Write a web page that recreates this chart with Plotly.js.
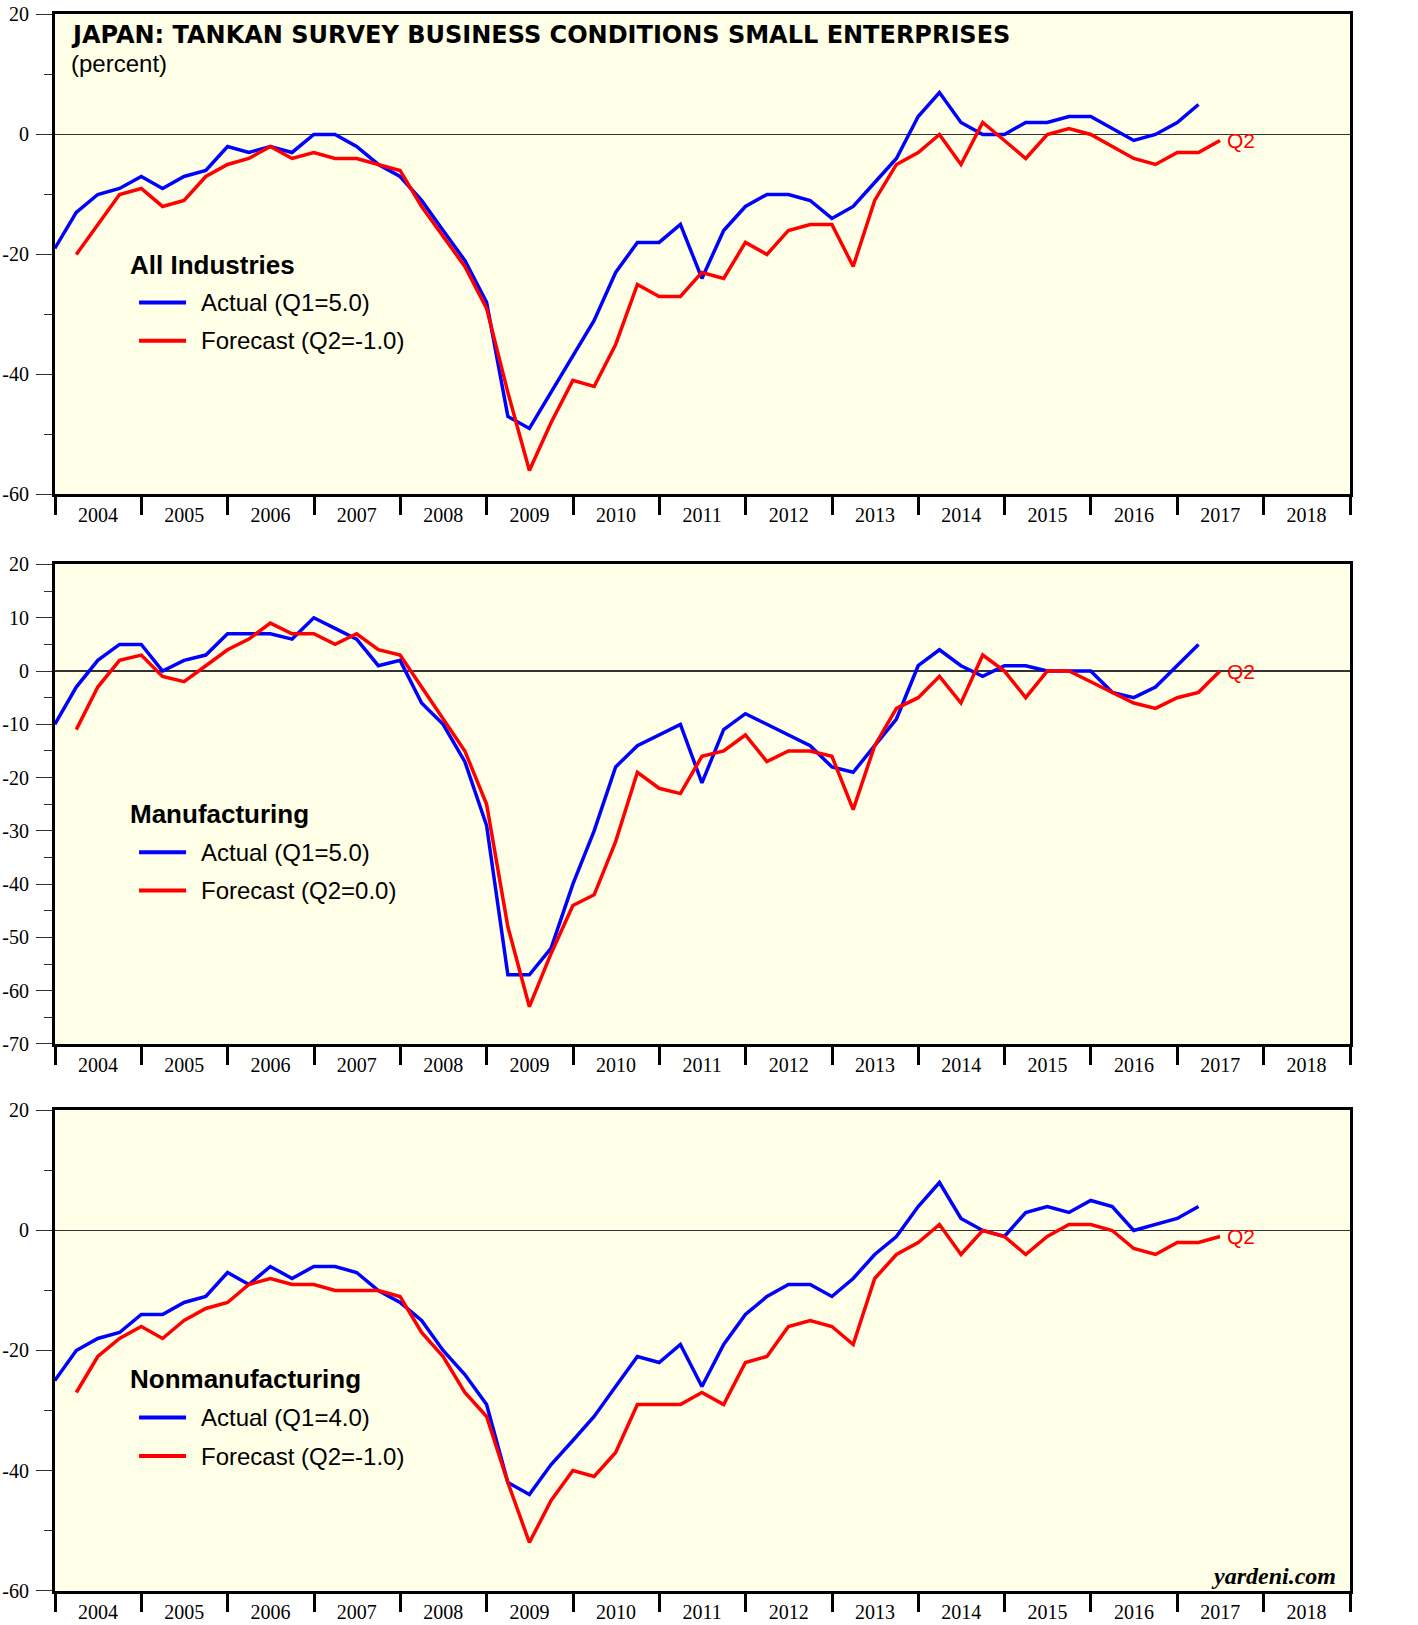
<!DOCTYPE html>
<html><head><meta charset="utf-8">
<script src="https://cdn.plot.ly/plotly-3.0.1.min.js"></script>
<style>html,body{margin:0;padding:0;background:#fff}#chart{width:1418px;height:1625px}</style>
</head><body><div id="chart"></div><script>
// Quarter-end dates (Q4 2003 .. Q2 2017)
const dates = ['2003-12-31',
 '2004-03-31','2004-06-30','2004-09-30','2004-12-31',
 '2005-03-31','2005-06-30','2005-09-30','2005-12-31',
 '2006-03-31','2006-06-30','2006-09-30','2006-12-31',
 '2007-03-31','2007-06-30','2007-09-30','2007-12-31',
 '2008-03-31','2008-06-30','2008-09-30','2008-12-31',
 '2009-03-31','2009-06-30','2009-09-30','2009-12-31',
 '2010-03-31','2010-06-30','2010-09-30','2010-12-31',
 '2011-03-31','2011-06-30','2011-09-30','2011-12-31',
 '2012-03-31','2012-06-30','2012-09-30','2012-12-31',
 '2013-03-31','2013-06-30','2013-09-30','2013-12-31',
 '2014-03-31','2014-06-30','2014-09-30','2014-12-31',
 '2015-03-31','2015-06-30','2015-09-30','2015-12-31',
 '2016-03-31','2016-06-30','2016-09-30','2016-12-31',
 '2017-03-31','2017-06-30'];
const actualDates = dates.slice(0, 54);
const forecastDates = dates.slice(1);

// All industries
const allActual = [-19,-13,-10,-9,-7,-9,-7,-6,-2,-3,
 -2,-3,0,0,-2,-5,-7,-11,-16,-21,
 -28,-47,-49,-43,-37,-31,-23,-18,-18,-15,
 -24,-16,-12,-10,-10,-11,-14,-12,-8,-4,
 3,7,2,0,0,2,2,3,3,1,
 -1,0,2,5];
const allForecast = [-20,-15,-10,-9,-12,-11,-7,-5,-4,-2,
 -4,-3,-4,-4,-5,-6,-12,-17,-22,-29,
 -43,-56,-48,-41,-42,-35,-25,-27,-27,-23,
 -24,-18,-20,-16,-15,-15,-22,-11,-5,-3,
 0,-5,2,-1,-4,0,1,0,-2,-4,
 -5,-3,-3,-1];
// Manufacturing
const mfgActual = [-10,-3,2,5,5,0,2,3,7,7,
 7,6,10,8,6,1,2,-6,-10,-17,
 -29,-57,-57,-52,-40,-30,-18,-14,-12,-10,
 -21,-11,-8,-10,-12,-14,-18,-19,-14,-9,
 1,4,1,-1,1,1,0,0,0,-4,
 -5,-3,1,5];
const mfgForecast = [-11,-3,2,3,-1,-2,1,4,6,9,
 7,7,5,7,4,3,-3,-9,-15,-25,
 -48,-63,-53,-44,-42,-32,-19,-22,-23,-16,
 -15,-12,-17,-15,-15,-16,-26,-14,-7,-5,
 -1,-6,3,0,-5,0,0,-2,-4,-6,
 -7,-5,-4,0];
// Nonmanufacturing
const nonActual = [-25,-20,-18,-17,-14,-14,-12,-11,-7,-9,
 -6,-8,-6,-6,-7,-10,-12,-15,-20,-24,
 -29,-42,-44,-39,-35,-31,-26,-21,-22,-19,
 -26,-19,-14,-11,-9,-9,-11,-8,-4,-1,
 4,8,2,0,-1,3,4,3,5,4,
 0,1,2,4];
const nonForecast = [-27,-21,-18,-16,-18,-15,-13,-12,-9,-8,
 -9,-9,-10,-10,-10,-11,-17,-21,-27,-31,
 -42,-52,-45,-40,-41,-37,-29,-29,-29,-27,
 -29,-22,-21,-16,-15,-16,-19,-8,-4,-2,
 1,-4,0,-1,-4,-1,1,1,0,-3,
 -4,-2,-2,-1];

const yearLabels = ['2004','2005','2006','2007','2008','2009','2010','2011','2012','2013','2014','2015','2016','2017','2018'];
const yearMids = ['2004-07-01','2005-07-01','2006-07-01','2007-07-01','2008-07-01','2009-07-01','2010-07-01','2011-07-01','2012-07-01','2013-07-01','2014-07-01','2015-07-01','2016-07-01','2017-07-01','2018-07-01'];
const yearStarts = ['2004-01-01','2005-01-01','2006-01-01','2007-01-01','2008-01-01','2009-01-01','2010-01-01','2011-01-01','2012-01-01','2013-01-01','2014-01-01','2015-01-01','2016-01-01','2017-01-01','2018-01-01','2019-01-01'];

const yMajorA = [20,0,-20,-40,-60];
const yMajorALabels = ['20','0','-20','-40','-60'];
const yMinorA = [10,-10,-30,-50];
const yMajorB = [20,10,0,-10,-20,-30,-40,-50,-60,-70];
const yMajorBLabels = ['20','10','0','-10','-20','-30','-40','-50','-60','-70'];
const yMinorB = [15,5,-5,-15,-25,-35,-45,-55,-65];

const panels = [
  {name:'All Industries', actual:allActual, forecast:allForecast, range:[-60,20], major:yMajorA, labels:yMajorALabels, minor:yMinorA,
   actualText:'Actual (Q1=5.0)', forecastText:'Forecast (Q2=-1.0)', dom:[0.69575,0.99108], leg:[0.479,0.400,0.320]},
  {name:'Manufacturing', actual:mfgActual, forecast:mfgForecast, range:[-70,20], major:yMajorB, labels:yMajorBLabels, minor:yMinorB,
   actualText:'Actual (Q1=5.0)', forecastText:'Forecast (Q2=0.0)', dom:[0.35754,0.65262], leg:[0.479,0.400,0.320]},
  {name:'Nonmanufacturing', actual:nonActual, forecast:nonForecast, range:[-60,20], major:yMajorA, labels:yMajorALabels, minor:yMinorA,
   actualText:'Actual (Q1=4.0)', forecastText:'Forecast (Q2=-1.0)', dom:[0.02123,0.31662], leg:[0.4396,0.3604,0.2802]}
];

const BLUE = '#0000ff', RED = '#ff0000';
const serif = 'Liberation Serif, Times New Roman, serif';
const sans = 'Liberation Sans, Arial, sans-serif';
const xDom = [0.03879, 0.95205];

const data = [];
const layout = {
  width:1418, height:1625, margin:{l:0,r:0,t:0,b:0},
  paper_bgcolor:'#ffffff', plot_bgcolor:'#fffee6',
  showlegend:false, annotations:[], shapes:[]
};

panels.forEach((p, i) => {
  const n = i + 1;
  const xa = 'x' + (n === 1 ? '' : n);
  const ya = 'y' + (n === 1 ? '' : n);
  data.push({x:actualDates, y:p.actual, xaxis:xa, yaxis:ya, type:'scatter', mode:'lines',
    line:{color:BLUE, width:3.5}, name:'Actual', hoverinfo:'x+y'});
  data.push({x:forecastDates, y:p.forecast, xaxis:xa, yaxis:ya, type:'scatter', mode:'lines',
    line:{color:RED, width:3.5}, name:'Forecast', hoverinfo:'x+y'});

  layout['xaxis' + (n === 1 ? '' : n)] = {
    type:'date', domain:xDom, anchor:ya, range:['2004-01-01','2019-01-01'],
    tickmode:'array', tickvals:yearMids, ticktext:yearLabels, ticks:'',
    ticklabelstandoff:1,
    minor:{tickmode:'array', tickvals:yearStarts, ticks:'outside', ticklen:18, tickwidth:3, tickcolor:'#000', showgrid:false},
    showline:true, linewidth:3, linecolor:'#000', mirror:true,
    showgrid:false, zeroline:false, fixedrange:true,
    tickfont:{family:serif, size:20, color:'#000'}
  };
  const yBase = {
    range:p.range, domain:p.dom, anchor:xa,
    tickmode:'array', tickvals:p.major, ticktext:p.labels,
    ticks:'outside', ticklen:16, tickwidth:1, tickcolor:'#333',
    minor:{tickmode:'array', tickvals:p.minor, ticks:'outside', ticklen:8, tickwidth:1, tickcolor:'#333', showgrid:false},
    showgrid:false, fixedrange:true,
    tickfont:{family:serif, size:20, color:'#000'}
  };
  layout['yaxis' + (n === 1 ? '' : n)] = Object.assign({}, yBase, {
    showline:true, linewidth:3, linecolor:'#000', mirror:true,
    zeroline:true, zerolinecolor:'#333', zerolinewidth:1.5, ticklabelstandoff:3
  });
  layout['yaxis' + (n + 3)] = Object.assign({}, yBase, {
    overlaying:ya, side:'right', showline:false, zeroline:false, ticklabelstandoff:3
  });

  const xd = xa + ' domain', yd = ya + ' domain';
  // legend block
  layout.annotations.push({xref:xd, yref:yd, x:0.0564, y:p.leg[0], xanchor:'left', yanchor:'middle',
    text:'<b>' + p.name + '</b>', showarrow:false, font:{family:sans, size:26, color:'#000'}});
  layout.annotations.push({xref:xd, yref:yd, x:0.1112, y:p.leg[1], xanchor:'left', yanchor:'middle',
    text:p.actualText, showarrow:false, font:{family:sans, size:24, color:'#000'}});
  layout.annotations.push({xref:xd, yref:yd, x:0.1112, y:p.leg[2], xanchor:'left', yanchor:'middle',
    text:p.forecastText, showarrow:false, font:{family:sans, size:24, color:'#000'}});
  layout.shapes.push({type:'line', xref:xd, yref:yd, x0:0.0649, x1:0.1012, y0:p.leg[1], y1:p.leg[1], line:{color:BLUE, width:4}});
  layout.shapes.push({type:'line', xref:xd, yref:yd, x0:0.0649, x1:0.1012, y0:p.leg[2], y1:p.leg[2], line:{color:RED, width:4}});
  // Q2 label at end of forecast line
  layout.annotations.push({xref:xa, yref:ya, x:forecastDates[forecastDates.length-1], y:p.forecast[p.forecast.length-1],
    xanchor:'left', yanchor:'middle', xshift:5, text:'Q2', showarrow:false, font:{family:sans, size:21, color:RED}});
});

// Title
layout.annotations.push({xref:'x domain', yref:'y domain', x:0.0108, y:0.9583, xanchor:'left', yanchor:'middle',
  text:'<b>JAPAN: TANKAN SURVEY BUSINESS CONDITIONS SMALL ENTERPRISES</b>', showarrow:false,
  font:{family:'DejaVu Sans, sans-serif', size:24, color:'#000'}});
layout.annotations.push({xref:'x domain', yref:'y domain', x:0.0108, y:0.898, xanchor:'left', yanchor:'middle',
  text:'(percent)', showarrow:false, font:{family:sans, size:24, color:'#000'}});
// Watermark
layout.annotations.push({xref:'x3 domain', yref:'y3 domain', x:0.9907, y:0.030, xanchor:'right', yanchor:'middle',
  text:'<b><i>yardeni.com</i></b>', showarrow:false, font:{family:serif, size:24, color:'#000'}});

Plotly.newPlot('chart', data, layout, {staticPlot:true, displayModeBar:false});
</script></body></html>
